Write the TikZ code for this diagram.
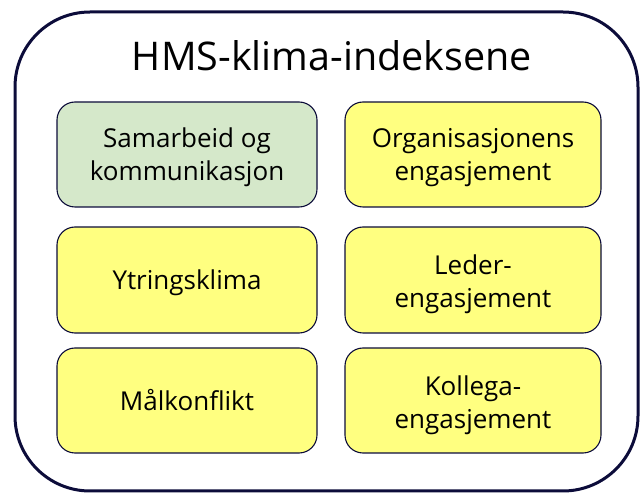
\documentclass[tikz,border=0pt]{standalone}
\usepackage{fontspec}
\setmainfont{Open Sans}
\definecolor{navy}{RGB}{12,12,58}
\definecolor{boxyellow}{RGB}{255,255,128}
\definecolor{boxgreen}{RGB}{213,232,202}
\begin{document}
\begin{tikzpicture}[x=1pt,y=-1pt,
  outerframe/.style={draw=navy,line width=3pt,rounded corners=75pt},
  card/.style={draw=navy,line width=1.1pt,rounded corners=18pt,fill=boxyellow},
  cardtext/.style={font=\fontsize{26}{33}\selectfont,align=center,text=black,inner sep=0pt},
  titletext/.style={font=\fontsize{39.5}{46}\selectfont,text=black,inner sep=0pt}]
\useasboundingbox (0,0) rectangle (641,494);
\draw[outerframe] (15,12) rectangle (638,491);
\node[titletext,anchor=base] (title) at (332,71) {HMS-klima-indeksene};
% left column
\draw[card,fill=boxgreen] (57,102) rectangle (317,207);
\node[cardtext] (samarbeid) at (187,157.5) {Samarbeid og\\kommunikasjon};
\draw[card] (57,227) rectangle (317,333);
\node[cardtext,anchor=base] (ytring) at (187,290) {Ytringsklima};
\draw[card] (57,348) rectangle (317,453);
\node[cardtext,anchor=base] (maal) at (187,411) {Målkonflikt};
% right column
\draw[card] (345,102) rectangle (601,207);
\node[cardtext] (org) at (473,157.5) {Organisasjonens\\engasjement};
\draw[card] (345,227) rectangle (601,333);
\node[cardtext] (leder) at (473,284) {Leder-\\engasjement};
\draw[card] (345,348) rectangle (601,453);
\node[cardtext] (kollega) at (473,405) {Kollega-\\engasjement};
\end{tikzpicture}
\end{document}
